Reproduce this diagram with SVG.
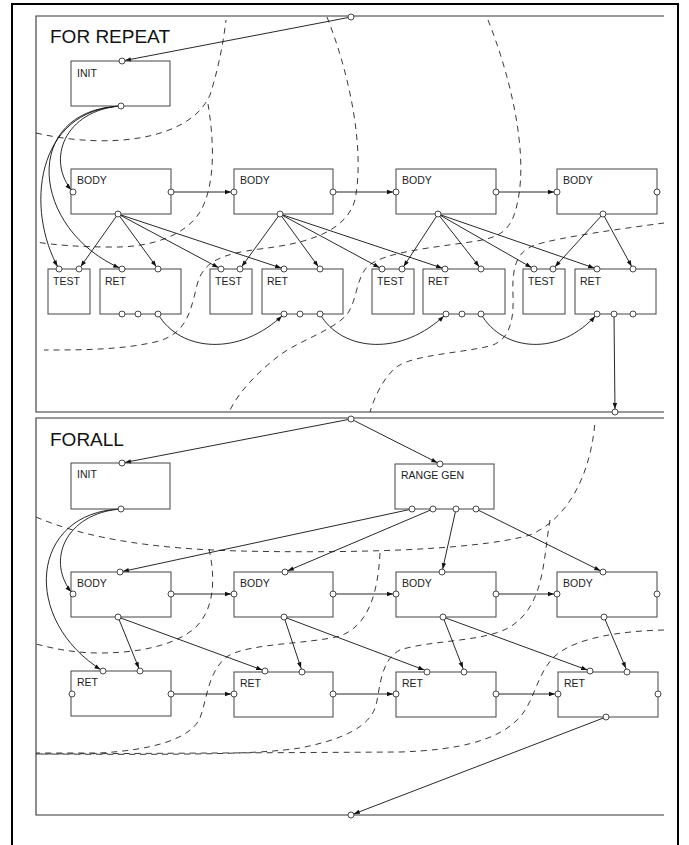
<svg xmlns="http://www.w3.org/2000/svg" width="689" height="845" viewBox="0 0 689 845">
<style>
.frame{fill:none;stroke:#000;stroke-width:2}
.panel{fill:none;stroke:#333;stroke-width:1.1}
.box{fill:none;stroke:#444;stroke-width:1}
.port{fill:#fff;stroke:#333;stroke-width:0.9}
.lbl{font-family:"Liberation Sans",Arial,sans-serif;font-size:10.5px;fill:#222}
.title{font-family:"Liberation Sans",Arial,sans-serif;font-size:19px;fill:#111}
.conn{fill:none;stroke:#111;stroke-width:0.9;marker-end:url(#arr)}
.dash{fill:none;stroke:#222;stroke-width:0.9;stroke-dasharray:6,5}
</style>
<defs>
<marker id="arr" markerUnits="userSpaceOnUse" markerWidth="10" markerHeight="5" refX="9" refY="2.2" orient="auto" overflow="visible">
<path d="M0,0 L6,2.2 L0,4.4 z" fill="#111"/>
</marker>
</defs>
<rect width="689" height="845" fill="#fff"/>
<path class="frame" d="M12,845 V4 H678 V845"/>
<g id="panel-repeat">
<path class="panel" d="M664,16 H36 V412 H664"/>
<text class="title" x="50" y="43">FOR REPEAT</text>
</g>
<g id="panel-forall">
<path class="panel" d="M664,418 H36 V815 H664"/>
<text class="title" x="50" y="446">FORALL</text>
</g>
<g id="boundaries">
<path class="dash" d="M36,133 C110,150 190,140 210,95 C218,70 223,45 226,20"/>
<path class="dash" d="M208,104 C214,140 216,185 200,212 C185,236 150,248 110,247 C80,247 55,245 36,242"/>
<path class="dash" d="M327,17 C350,75 365,150 355,200 C345,235 300,244 260,249 C220,254 203,262 197,285 C190,315 185,335 155,342 C120,350 80,350 44,350"/>
<path class="dash" d="M488,20 C510,75 528,150 518,200 C512,232 500,238 470,242 C430,248 385,252 368,266 C356,278 357,300 348,313 C335,330 300,340 280,355 C260,370 240,390 230,410"/>
<path class="dash" d="M664,223 C620,229 560,237 535,245 C515,252 512,270 513,295 C514,320 510,340 490,346 C460,353 415,355 398,366 C385,375 375,395 370,412"/>
<path class="dash" d="M36,517 C90,540 160,549 240,551 C330,553 470,552 530,535 C565,520 590,480 595,422"/>
<path class="dash" d="M209,549 C216,580 214,610 195,628 C175,645 140,653 100,653 C75,653 55,649 36,644"/>
<path class="dash" d="M380,553 C378,590 370,625 340,636 C310,644 250,643 228,656 C208,670 207,700 200,718 C190,740 150,750 100,753 L36,753"/>
<path class="dash" d="M550,520 C543,560 545,605 510,627 C485,642 430,640 400,650 C380,660 380,690 376,705 C370,728 340,740 300,748 C260,754 200,755 36,754"/>
<path class="dash" d="M664,630 C620,631 575,638 555,656 C535,675 535,705 515,722 C495,740 460,750 400,752 L36,754"/>
</g>
<g id="connectors">
<path class="conn" d="M351,17 L122,61"/>
<path class="conn" d="M121,106 C65,110 45,160 73,192"/>
<path class="conn" d="M121,106 C35,110 25,210 59,269"/>
<path class="conn" d="M121,106 C20,110 30,230 122,269"/>
<path class="conn" d="M171,192 L234,192"/>
<path class="conn" d="M333,192 L396,192"/>
<path class="conn" d="M496,192 L557,192"/>
<path class="conn" d="M118,214 L79,269"/>
<path class="conn" d="M118,214 L158,269"/>
<path class="conn" d="M118,214 L221,269"/>
<path class="conn" d="M118,214 L284,269"/>
<path class="conn" d="M280,214 L240,269"/>
<path class="conn" d="M280,214 L320,269"/>
<path class="conn" d="M280,214 L382,269"/>
<path class="conn" d="M280,214 L445,269"/>
<path class="conn" d="M438,214 L402,269"/>
<path class="conn" d="M438,214 L481,269"/>
<path class="conn" d="M438,214 L534,269"/>
<path class="conn" d="M438,214 L597,269"/>
<path class="conn" d="M603,214 L553,269"/>
<path class="conn" d="M603,214 L633,269"/>
<path class="conn" d="M158,314 C180,352 240,357 284,314"/>
<path class="conn" d="M320,314 C342,352 402,357 446,314"/>
<path class="conn" d="M481,314 C503,352 560,357 597,314"/>
<path class="conn" d="M614,314 L615,412"/>
<path class="conn" d="M351,419 L122,463"/>
<path class="conn" d="M351,419 L440,464"/>
<path class="conn" d="M121,509 C65,513 45,562 73,594"/>
<path class="conn" d="M121,509 C30,512 20,620 103,671"/>
<path class="conn" d="M412,509 L120,572"/>
<path class="conn" d="M433,509 L285,572"/>
<path class="conn" d="M456,509 L442,572"/>
<path class="conn" d="M476,509 L603,572"/>
<path class="conn" d="M171,594 L234,594"/>
<path class="conn" d="M333,594 L396,594"/>
<path class="conn" d="M496,594 L557,594"/>
<path class="conn" d="M118,617 L140,671"/>
<path class="conn" d="M118,617 L265,671"/>
<path class="conn" d="M284,617 L302,671"/>
<path class="conn" d="M284,617 L427,671"/>
<path class="conn" d="M443,617 L464,671"/>
<path class="conn" d="M443,617 L590,671"/>
<path class="conn" d="M604,617 L627,671"/>
<path class="conn" d="M171,694 L234,694"/>
<path class="conn" d="M333,694 L396,694"/>
<path class="conn" d="M496,694 L558,694"/>
<path class="conn" d="M606,717 L351,815"/>
</g>
<g id="panel-ports">
<circle class="port" cx="351" cy="17" r="3"/>
<circle class="port" cx="615" cy="412" r="3"/>
<circle class="port" cx="351" cy="419" r="3"/>
<circle class="port" cx="351" cy="815" r="3"/>
</g>
<g id="init1"><rect class="box" x="71" y="61" width="99" height="45"/><text class="lbl" x="77" y="77">INIT</text><circle class="port" cx="122" cy="61" r="3"/><circle class="port" cx="121" cy="106" r="3"/></g>
<g id="body1"><rect class="box" x="71" y="169" width="100" height="45"/><text class="lbl" x="77" y="184">BODY</text><circle class="port" cx="73" cy="192" r="3"/><circle class="port" cx="171" cy="192" r="3"/><circle class="port" cx="118" cy="214" r="3"/></g>
<g id="body2"><rect class="box" x="234" y="169" width="99" height="45"/><text class="lbl" x="240" y="184">BODY</text><circle class="port" cx="234" cy="192" r="3"/><circle class="port" cx="333" cy="192" r="3"/><circle class="port" cx="280" cy="214" r="3"/></g>
<g id="body3"><rect class="box" x="396" y="169" width="100" height="45"/><text class="lbl" x="402" y="184">BODY</text><circle class="port" cx="396" cy="192" r="3"/><circle class="port" cx="496" cy="192" r="3"/><circle class="port" cx="438" cy="214" r="3"/></g>
<g id="body4"><rect class="box" x="557" y="169" width="100" height="45"/><text class="lbl" x="563" y="184">BODY</text><circle class="port" cx="557" cy="192" r="3"/><circle class="port" cx="657" cy="192" r="3"/><circle class="port" cx="603" cy="214" r="3"/></g>
<g id="test1"><rect class="box" x="48" y="269" width="42" height="45"/><text class="lbl" x="53" y="285">TEST</text><circle class="port" cx="59" cy="269" r="3"/><circle class="port" cx="79" cy="269" r="3"/></g>
<g id="ret1"><rect class="box" x="100" y="269" width="81" height="45"/><text class="lbl" x="105" y="285">RET</text><circle class="port" cx="122" cy="269" r="3"/><circle class="port" cx="158" cy="269" r="3"/><circle class="port" cx="122" cy="314" r="3"/><circle class="port" cx="138" cy="314" r="3"/><circle class="port" cx="158" cy="314" r="3"/></g>
<g id="test2"><rect class="box" x="210" y="269" width="42" height="45"/><text class="lbl" x="215" y="285">TEST</text><circle class="port" cx="221" cy="269" r="3"/><circle class="port" cx="240" cy="269" r="3"/></g>
<g id="ret2"><rect class="box" x="262" y="269" width="81" height="45"/><text class="lbl" x="267" y="285">RET</text><circle class="port" cx="284" cy="269" r="3"/><circle class="port" cx="320" cy="269" r="3"/><circle class="port" cx="284" cy="314" r="3"/><circle class="port" cx="300" cy="314" r="3"/><circle class="port" cx="320" cy="314" r="3"/></g>
<g id="test3"><rect class="box" x="372" y="269" width="42" height="45"/><text class="lbl" x="377" y="285">TEST</text><circle class="port" cx="382" cy="269" r="3"/><circle class="port" cx="402" cy="269" r="3"/></g>
<g id="ret3"><rect class="box" x="423" y="269" width="82" height="45"/><text class="lbl" x="428" y="285">RET</text><circle class="port" cx="445" cy="269" r="3"/><circle class="port" cx="481" cy="269" r="3"/><circle class="port" cx="446" cy="314" r="3"/><circle class="port" cx="462" cy="314" r="3"/><circle class="port" cx="481" cy="314" r="3"/></g>
<g id="test4"><rect class="box" x="523" y="269" width="42" height="45"/><text class="lbl" x="528" y="285">TEST</text><circle class="port" cx="534" cy="269" r="3"/><circle class="port" cx="553" cy="269" r="3"/></g>
<g id="ret4"><rect class="box" x="575" y="269" width="81" height="45"/><text class="lbl" x="580" y="285">RET</text><circle class="port" cx="597" cy="269" r="3"/><circle class="port" cx="633" cy="269" r="3"/><circle class="port" cx="597" cy="314" r="3"/><circle class="port" cx="614" cy="314" r="3"/><circle class="port" cx="633" cy="314" r="3"/></g>
<g id="init2"><rect class="box" x="71" y="463" width="99" height="46"/><text class="lbl" x="77" y="478">INIT</text><circle class="port" cx="122" cy="463" r="3"/><circle class="port" cx="121" cy="509" r="3"/></g>
<g id="rangegen"><rect class="box" x="395" y="464" width="99" height="45"/><text class="lbl" x="401" y="479">RANGE GEN</text><circle class="port" cx="440" cy="464" r="3"/><circle class="port" cx="412" cy="509" r="3"/><circle class="port" cx="433" cy="509" r="3"/><circle class="port" cx="456" cy="509" r="3"/><circle class="port" cx="476" cy="509" r="3"/></g>
<g id="body5"><rect class="box" x="71" y="572" width="100" height="45"/><text class="lbl" x="77" y="587">BODY</text><circle class="port" cx="120" cy="572" r="3"/><circle class="port" cx="73" cy="594" r="3"/><circle class="port" cx="171" cy="594" r="3"/><circle class="port" cx="118" cy="617" r="3"/></g>
<g id="body6"><rect class="box" x="234" y="572" width="99" height="45"/><text class="lbl" x="240" y="587">BODY</text><circle class="port" cx="285" cy="572" r="3"/><circle class="port" cx="234" cy="594" r="3"/><circle class="port" cx="333" cy="594" r="3"/><circle class="port" cx="284" cy="617" r="3"/></g>
<g id="body7"><rect class="box" x="396" y="572" width="100" height="45"/><text class="lbl" x="402" y="587">BODY</text><circle class="port" cx="442" cy="572" r="3"/><circle class="port" cx="396" cy="594" r="3"/><circle class="port" cx="496" cy="594" r="3"/><circle class="port" cx="443" cy="617" r="3"/></g>
<g id="body8"><rect class="box" x="557" y="572" width="100" height="45"/><text class="lbl" x="563" y="587">BODY</text><circle class="port" cx="603" cy="572" r="3"/><circle class="port" cx="557" cy="594" r="3"/><circle class="port" cx="657" cy="594" r="3"/><circle class="port" cx="604" cy="617" r="3"/></g>
<g id="ret5"><rect class="box" x="71" y="671" width="100" height="45"/><text class="lbl" x="77" y="686">RET</text><circle class="port" cx="103" cy="671" r="3"/><circle class="port" cx="140" cy="671" r="3"/><circle class="port" cx="72" cy="694" r="3"/><circle class="port" cx="171" cy="694" r="3"/></g>
<g id="ret6"><rect class="box" x="234" y="672" width="99" height="45"/><text class="lbl" x="240" y="687">RET</text><circle class="port" cx="265" cy="671" r="3"/><circle class="port" cx="302" cy="672" r="3"/><circle class="port" cx="234" cy="694" r="3"/><circle class="port" cx="333" cy="694" r="3"/></g>
<g id="ret7"><rect class="box" x="396" y="672" width="100" height="45"/><text class="lbl" x="402" y="687">RET</text><circle class="port" cx="427" cy="672" r="3"/><circle class="port" cx="464" cy="672" r="3"/><circle class="port" cx="396" cy="694" r="3"/><circle class="port" cx="496" cy="694" r="3"/></g>
<g id="ret8"><rect class="box" x="558" y="672" width="100" height="45"/><text class="lbl" x="564" y="687">RET</text><circle class="port" cx="590" cy="671" r="3"/><circle class="port" cx="627" cy="672" r="3"/><circle class="port" cx="558" cy="694" r="3"/><circle class="port" cx="658" cy="694" r="3"/><circle class="port" cx="606" cy="717" r="3"/></g>
</svg>
